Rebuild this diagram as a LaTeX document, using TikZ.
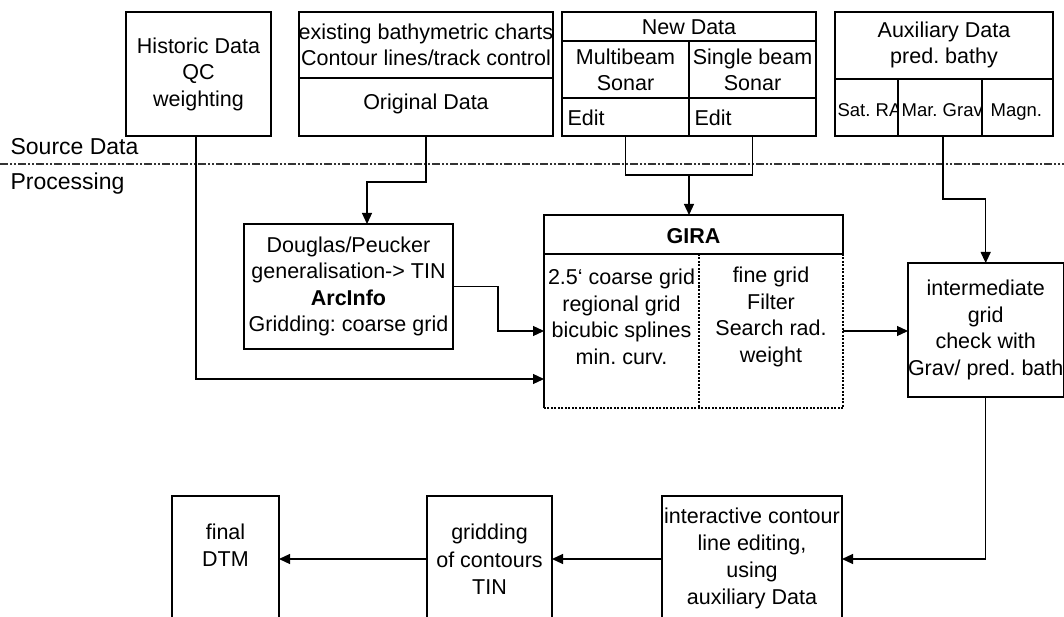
\documentclass[tikz,border=0pt]{standalone}
\usepackage{fontspec}
\setmainfont{Liberation Sans}
\usetikzlibrary{arrows.meta,calc}
\frenchspacing

\begin{document}
\begin{tikzpicture}[x=1pt,y=-1pt,
  line width=1.2pt,
  box/.style={draw, inner sep=0pt, outer sep=0pt, align=center, anchor=north west,
              font=\fontsize{21.5}{26.5}\selectfont},
  txt/.style={inner sep=0pt, align=center, font=\fontsize{21.5}{26.5}\selectfont},
  lefttxt/.style={inner sep=0pt, anchor=west, font=\fontsize{21.5}{26.5}\selectfont},
  small/.style={inner sep=0pt, anchor=base west, font=\fontsize{18.5}{21}\selectfont},
  lbl/.style={inner sep=0pt, anchor=west, font=\fontsize{23}{27}\selectfont},
  arr/.style={-{Triangle[length=11pt,width=10pt]}},
  dotline/.style={dash pattern=on 2pt off 1.5pt},
  sepline/.style={line width=1.1pt, black!80,
                  dash pattern=on 8pt off 2pt on 2pt off 2pt on 2pt off 2pt}
]
\useasboundingbox (0,0) rectangle (1064,617);
\clip (0,0) rectangle (1064,617);

% ---------- source data ----------
\node[box, minimum width=145pt, minimum height=124pt] (hist) at (126,12)
  {Historic Data\\QC\\weighting};

\node[box, minimum width=254pt, minimum height=124pt] (ex) at (299,12) {};
\draw (ex.west |- 0,78) -- (ex.east |- 0,78);
\node[txt] (ext) at (426,45) {existing bathymetric charts\\Contour lines/track control};
\node[txt] (exo) at (426,104) {Original Data};

\node[box, minimum width=254pt, minimum height=124pt] (nd) at (562,12) {};
\draw (nd.west |- 0,41) -- (nd.east |- 0,41);
\draw (nd.west |- 0,98) -- (nd.east |- 0,98);
\draw (689,41) -- (nd.south -| 689,0);
\node[txt] (ndt) at (689,27) {New Data};
\node[txt] (mb) at (625.5,70) {Multibeam\\Sonar};
\node[txt] (sb) at (752.5,70) {Single beam\\Sonar};
\node[lefttxt] (ed1) at (567,118) {Edit};
\node[lefttxt] (ed2) at (694,118) {Edit};

\node[box, minimum width=218pt, minimum height=124pt] (aux) at (835,12) {};
\draw (aux.west |- 0,79) -- (aux.east |- 0,79);
\draw (898,79) -- (aux.south -| 898,0);
\draw (982,79) -- (aux.south -| 982,0);
\node[txt] (auxt) at (944,45) {Auxiliary Data\\pred. bathy};
\begin{scope}
  \clip (835,79) rectangle (897,136);
  \node[small] (sat) at (837,117) {Sat. RA};
\end{scope}
\begin{scope}
  \clip (899,79) rectangle (981,136);
  \node[small] (grav) at (901,117) {Mar. Grav};
\end{scope}
\node[small] (mag) at (990,117) {Magn.};

% ---------- separator ----------
\node[lbl] (src) at (10,147) {Source Data};
\node[lbl] (proc) at (10,184) {Processing};
\coordinate (sepL) at (0,164);
\coordinate (sepR) at (1064,164);
\draw[sepline] (sepL) -- (sepR);

% ---------- processing ----------
\node[box, minimum width=209pt, minimum height=125pt] (doug) at (244,224)
  {Douglas/Peucker\\generalisation-> TIN\\\textbf{ArcInfo}\\Gridding: coarse grid};

\node[inner sep=0pt, outer sep=0pt, anchor=north west,
      minimum width=299pt, minimum height=193pt] (gira) at (544,215) {};
\draw (gira.south west) -- (gira.north west) -- (gira.north east) -- (843,254);
\draw (544,254) -- (843,254);
\draw[dotline] (843,254) -- (gira.south east) -- (gira.south west);
\draw[dotline] (699,254) -- (gira.south -| 699,0);
\node[txt, font=\fontsize{21.5}{26.5}\selectfont\bfseries] (girat) at (693.5,236) {GIRA};
\node[txt] (gl) at (621.5,317)
  {2.5‘ coarse grid\\regional grid\\bicubic splines\\min. curv.};
\node[txt] (gr) at (771,317) {fine grid\\Filter\\Search rad.\\weight};

\node[box, minimum width=154pt, minimum height=134pt] (inter) at (908,263)
  {intermediate\\grid\\check with\\Grav/ pred. bath};

% ---------- final steps ----------
\node[box, minimum width=180pt, minimum height=140pt] (ia) at (662,496) {};
\node[txt, font=\fontsize{21.5}{27}\selectfont] (iat) at (752,558.5)
  {interactive contour\\line editing,\\using\\auxiliary Data};
\node[box, minimum width=125pt, minimum height=140pt] (grd) at (427,496) {};
\node[txt, font=\fontsize{21.5}{27.5}\selectfont] (grdt) at (489.5,559.5)
  {gridding\\of contours\\TIN};
\node[box, minimum width=107pt, minimum height=140pt] (fin) at (172,496) {};
\node[txt, font=\fontsize{21.5}{27}\selectfont] (fint) at (225.5,545.5) {final\\DTM};

% ---------- connectors ----------
\coordinate (h1) at (196,379);
\draw[arr] (hist.south -| h1) -- (h1) -- (gira.west |- h1);

\coordinate (e1) at (426,182);
\coordinate (e2) at (367,182);
\draw[arr] (ex.south -| e1) -- (e1) -- (e2) -- (doug.north -| e2);

\coordinate (n1) at (625.5,175);
\coordinate (n2) at (752.5,175);
\coordinate (n3) at (689,175);
\draw (nd.south -| n1) -- (n1) -- (n2) -- (nd.south -| n2);
\draw[arr] (n3) -- (gira.north -| n3);

\coordinate (a1) at (943,199);
\draw[arr] (aux.south -| a1) -- (a1) -| (inter.north);

\coordinate (g1) at (498,331);
\draw[arr] (doug.east) -| (g1) -- (gira.west |- g1);
\draw[arr] (gira.east |- g1) -- (inter.west |- g1);

\coordinate (yb) at (0,559);
\draw[arr] (inter.south) |- (ia.east |- yb);
\draw[arr] (ia.west |- yb) -- (grd.east |- yb);
\draw[arr] (grd.west |- yb) -- (fin.east |- yb);
\end{tikzpicture}
\end{document}
